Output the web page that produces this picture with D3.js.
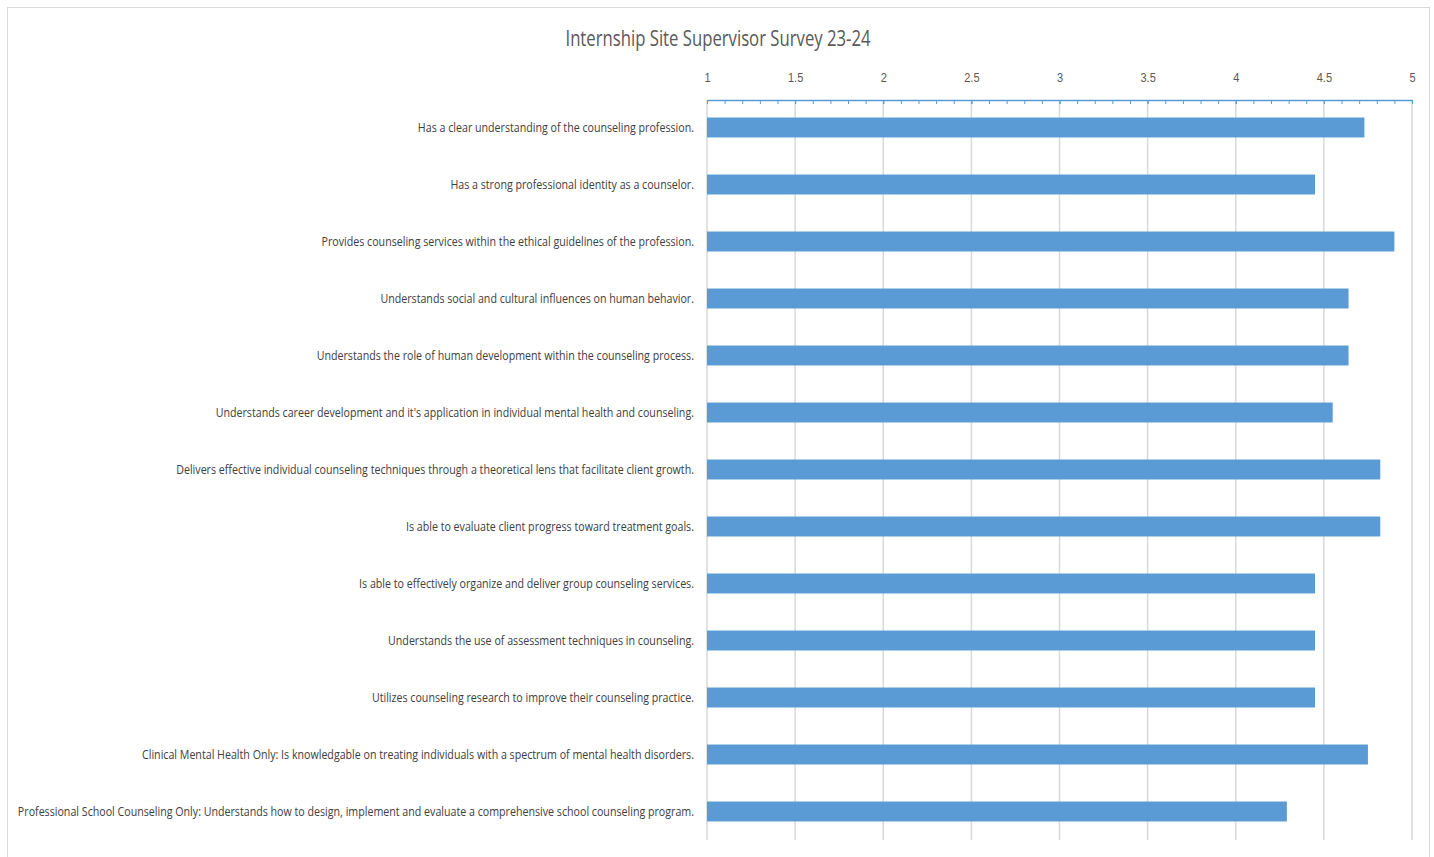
<!DOCTYPE html>
<html>
<head>
<meta charset="utf-8">
<script src="https://cdn.jsdelivr.net/npm/d3@7"></script>
<style>
	body { margin: 0; background: #fff; }
	svg { font-family: 'Open Sans', sans-serif; }
</style>
</head>
<body>
<svg id="chart" width="1434" height="857"></svg>
<script>
const title = 'Internship Site Supervisor Survey 23-24';
const items = [
	'Has a clear understanding of the counseling profession.',
	'Has a strong professional identity as a counselor.',
	'Provides counseling services within the ethical guidelines of the profession.',
	'Understands social and cultural influences on human behavior.',
	'Understands the role of human development within the counseling process.',
	"Understands career development and it's application in individual mental health and counseling.",
	'Delivers effective individual counseling techniques through a theoretical lens that facilitate client growth.',
	'Is able to evaluate client progress toward treatment goals.',
	'Is able to effectively organize and deliver group counseling services.',
	'Understands the use of assessment techniques in counseling.',
	'Utilizes counseling research to improve their counseling practice.',
	'Clinical Mental Health Only: Is knowledgable on treating individuals with a spectrum of mental health disorders.',
	'Professional School Counseling Only: Understands how to design, implement and evaluate a comprehensive school counseling program.'
];
const scores = [4.73, 4.45, 4.90, 4.64, 4.64, 4.55, 4.82, 4.82, 4.45, 4.45, 4.45, 4.75, 4.29];
const majorTicks = [1, 1.5, 2, 2.5, 3, 3.5, 4, 4.5, 5];

const svg = d3.select('#chart');

//chart frame
svg.append('rect')
	.attr('x', 7.5).attr('y', 7.5)
	.attr('width', 1422).attr('height', 860)
	.attr('fill', 'none')
	.attr('stroke', '#d9d9d9');

//the original font is condensed, so squeeze text horizontally
svg.append('g')
	.attr('transform', 'translate(718,46) scale(0.76,1)')
	.append('text')
	.attr('text-anchor', 'middle')
	.style('font-size', '22px')
	.style('fill', '#595959')
	.text(title);

let x = d3.scaleLinear().domain([1, 5]).range([707, 1412]);
let y = d3.scaleBand().domain(items).range([99, 840]).paddingInner(0.65).paddingOuter(0.325);

//gridlines
svg.append('g')
	.selectAll('line')
	.data(majorTicks)
	.join('line')
	.attr('x1', (d) => x(d)).attr('x2', (d) => x(d))
	.attr('y1', 100).attr('y2', 840)
	.attr('stroke', '#d9d9d9')
	.attr('stroke-width', 1.5);

//minor ticks
let minor = [];
for (let i = 0; i <= 40; i++) minor.push(1 + i / 10);
svg.append('g')
	.attr('transform', 'translate(0,100)')
	.call(d3.axisTop(x).tickValues(minor).tickFormat('').tickSizeInner(-4).tickSizeOuter(0))
	.call((g) => g.selectAll('line').attr('stroke', '#5b9bd5'))
	.call((g) => g.select('.domain').remove());

//major axis
let axis = svg.append('g')
	.attr('transform', 'translate(0,100)')
	.call(d3.axisTop(x).tickValues(majorTicks).tickFormat((d) => d).tickSizeInner(-4).tickSizeOuter(0).tickPadding(18));
axis.select('.domain').attr('stroke', '#5b9bd5').attr('stroke-width', 1.5);
axis.selectAll('line').attr('stroke', '#5b9bd5');
axis.selectAll('text')
	.attr('transform', 'scale(0.85,1)')
	.attr('x', function() { return 0; })
	.style('font-size', '13px')
	.style('fill', '#595959');

//bars
svg.append('g')
	.selectAll('rect')
	.data(items)
	.join('rect')
	.attr('x', x(1))
	.attr('y', (d) => y(d))
	.attr('width', (d, i) => x(scores[i]) - x(1))
	.attr('height', y.bandwidth())
	.attr('fill', '#5b9bd5');

//category labels
svg.append('g')
	.selectAll('g')
	.data(items)
	.join('g')
	.attr('transform', (d) => 'translate(694,' + (y(d) + y.bandwidth() / 2) + ') scale(0.79,1)')
	.append('text')
	.attr('dy', '.35em')
	.attr('text-anchor', 'end')
	.style('font-size', '13.5px')
	.style('fill', '#404040')
	.text((d) => d);
</script>
</body>
</html>
